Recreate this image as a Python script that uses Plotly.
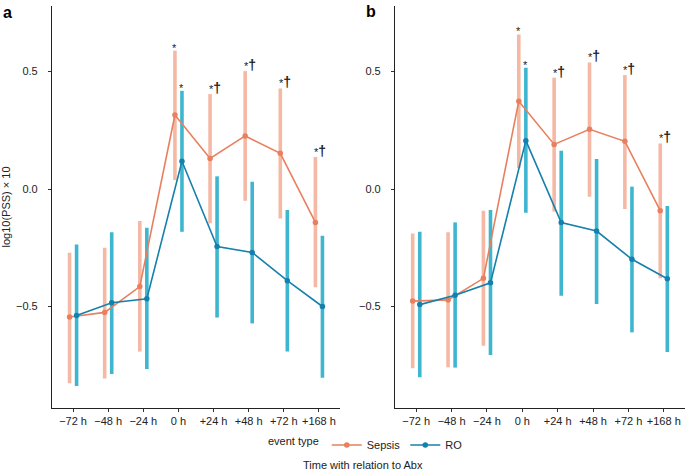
import numpy as np
import plotly.graph_objects as go

timepoints = ["\u221272 h", "\u221248 h", "\u221224 h", "0 h", "+24 h", "+48 h", "+72 h", "+168 h"]

# Panel a
a_sepsis_mean = [-0.545, -0.525, -0.415, 0.315, 0.130, 0.226, 0.152, -0.142]
a_sepsis_lo = [-0.827, -0.806, -0.692, 0.038, -0.146, -0.050, -0.125, -0.418]
a_sepsis_hi = [-0.271, -0.250, -0.136, 0.589, 0.404, 0.502, 0.428, 0.136]
a_ro_mean = [-0.538, -0.484, -0.467, 0.118, -0.245, -0.270, -0.390, -0.500]
a_ro_lo = [-0.838, -0.787, -0.766, -0.182, -0.547, -0.572, -0.692, -0.803]
a_ro_hi = [-0.236, -0.184, -0.165, 0.418, 0.054, 0.031, -0.089, -0.199]

# Panel b
b_sepsis_mean = [-0.477, -0.472, -0.380, 0.374, 0.190, 0.254, 0.203, -0.092]
b_sepsis_lo = [-0.763, -0.759, -0.667, 0.088, -0.096, -0.033, -0.085, -0.380]
b_sepsis_hi = [-0.189, -0.184, -0.092, 0.658, 0.474, 0.539, 0.485, 0.194]
b_ro_mean = [-0.492, -0.452, -0.399, 0.206, -0.143, -0.179, -0.299, -0.382]
b_ro_lo = [-0.801, -0.760, -0.706, -0.101, -0.454, -0.489, -0.610, -0.694]
b_ro_hi = [-0.182, -0.142, -0.089, 0.516, 0.163, 0.128, 0.010, -0.072]

sepsis_sig = ["", "", "", "*", "*\u2020", "*\u2020", "*\u2020", "*\u2020"]
ro_sig = ["", "", "", "*", "", "", "", ""]

y_ticks = [-0.5, 0.0, 0.5]
y_ticktext = ["\u22120.5", "0.0", "0.5"]

SEP_LINE = "#E8805F"
SEP_BAR = "#F5B8A4"
RO_LINE = "#1680AC"
RO_BAR = "#3EB6D0"
FONT = "Liberation Sans, Arial, Helvetica, sans-serif"
DODGE = 0.1

fig = go.Figure()
idx = np.arange(len(timepoints))

panels = [
    ("x", "y", a_sepsis_mean, a_sepsis_lo, a_sepsis_hi, a_ro_mean, a_ro_lo, a_ro_hi, True),
    ("x2", "y2", b_sepsis_mean, b_sepsis_lo, b_sepsis_hi, b_ro_mean, b_ro_lo, b_ro_hi, False),
]

annotations = []
for xa, ya, sm, slo, shi, rm, rlo, rhi, showleg in panels:
    sm, slo, shi = np.array(sm), np.array(slo), np.array(shi)
    rm, rlo, rhi = np.array(rm), np.array(rlo), np.array(rhi)
    xs = idx - DODGE
    xr = idx + DODGE
    for xx, m, lo, hi, col in [(xs, sm, slo, shi, SEP_BAR), (xr, rm, rlo, rhi, RO_BAR)]:
        fig.add_trace(go.Scatter(
            x=xx, y=m, mode="markers", marker=dict(size=0.1, color="rgba(0,0,0,0)"),
            error_y=dict(type="data", symmetric=False, array=hi - m, arrayminus=m - lo,
                         color=col, thickness=3.6, width=0),
            xaxis=xa, yaxis=ya, showlegend=False, hoverinfo="skip"))
    fig.add_trace(go.Scatter(
        x=xs, y=sm, mode="lines+markers", name="Sepsis",
        line=dict(color=SEP_LINE, width=1.6), marker=dict(color=SEP_LINE, size=5.5),
        xaxis=xa, yaxis=ya, showlegend=showleg, legendgroup="s"))
    fig.add_trace(go.Scatter(
        x=xr, y=rm, mode="lines+markers", name="RO",
        line=dict(color=RO_LINE, width=1.6), marker=dict(color=RO_LINE, size=5.5),
        xaxis=xa, yaxis=ya, showlegend=showleg, legendgroup="r"))
    for xx, hi, sig in [(xs, shi, sepsis_sig), (xr, rhi, ro_sig)]:
        for xv, yv, t in zip(xx, hi, sig):
            if not t:
                continue
            if len(t) == 1:
                annotations.append(dict(x=xv, y=yv, xref=xa, yref=ya, text="*",
                                        showarrow=False, xanchor="center", yanchor="bottom",
                                        yshift=-5, font=dict(size=11, color="#222", family=FONT)))
            else:
                annotations.append(dict(x=xv, y=yv, xref=xa, yref=ya,
                                        text="*<b><span style='font-size:14px'>\u2020</span></b>",
                                        showarrow=False, xanchor="left", yanchor="bottom",
                                        xshift=-3.5, yshift=-4, font=dict(size=11, color="#222", family=FONT)))

W, H = 685, 471
top = 1 - 6 / H
bot = 1 - 408 / H
axis_common = dict(showgrid=False, zeroline=False, showline=True, linecolor="#222", linewidth=1.2,
                   ticks="outside", ticklen=3, tickcolor="#333", tickwidth=1, automargin=False,
                   tickfont=dict(size=11, color="#222", family=FONT))

fig.update_layout(
    width=W, height=H, margin=dict(l=0, r=0, t=0, b=0, autoexpand=False),
    paper_bgcolor="white", plot_bgcolor="white",
    font=dict(family=FONT, size=11, color="#222"),
    xaxis=dict(domain=[52 / W, 340 / W], range=[-0.6, 7.6], tickvals=idx, ticktext=timepoints,
               anchor="y", **axis_common),
    yaxis=dict(domain=[bot, top], range=[-0.932, 0.779], tickvals=y_ticks, ticktext=y_ticktext,
               anchor="x", ticklabelstandoff=8,
               title=dict(text="log10(PSS) \u00d7 10", font=dict(size=11, family=FONT), standoff=6),
               **axis_common),
    xaxis2=dict(domain=[395 / W, 685 / W], range=[-0.6, 7.6], tickvals=idx, ticktext=timepoints,
                anchor="y2", **axis_common),
    yaxis2=dict(domain=[bot, top], range=[-0.932, 0.779], tickvals=y_ticks, ticktext=y_ticktext,
                anchor="x2", ticklabelstandoff=8, **axis_common),
    legend=dict(orientation="h", x=266 / W, xanchor="left", y=1 - 445 / H, yanchor="middle",
                title=dict(text="event type", side="left", font=dict(size=11)),
                font=dict(size=11), itemwidth=30, bgcolor="rgba(0,0,0,0)"),
    annotations=annotations + [
        dict(text="<b>a</b>", x=1 / W, y=1 - 2 / H, xref="paper", yref="paper", xanchor="left",
             yanchor="top", showarrow=False, font=dict(size=16, color="black", family=FONT)),
        dict(text="<b>b</b>", x=364 / W, y=1 - 1 / H, xref="paper", yref="paper", xanchor="left",
             yanchor="top", showarrow=False, font=dict(size=16, color="black", family=FONT)),
        dict(text="Time with relation to Abx", x=363 / W, y=1 - 465 / H, xref="paper", yref="paper",
             xanchor="center", yanchor="middle", showarrow=False,
             font=dict(size=11, color="#222", family=FONT)),
    ],
)

fig.write_html("out.html", config={"displayModeBar": False},
               post_script="document.body.style.margin='0';document.body.style.overflow='hidden';")
